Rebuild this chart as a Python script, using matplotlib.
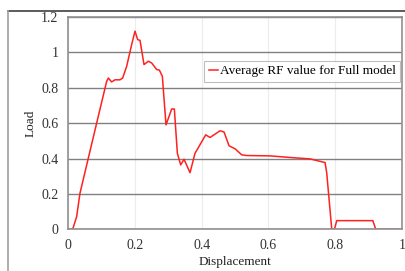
import matplotlib
matplotlib.use('Agg')
import matplotlib.pyplot as plt
from matplotlib.lines import Line2D

# data
displacement = [0.0, 0.013, 0.025, 0.035, 0.085, 0.115, 0.12, 0.13, 0.14, 0.155, 0.163,
                0.175, 0.19, 0.2, 0.208, 0.215, 0.227, 0.24, 0.25, 0.265, 0.273, 0.282,
                0.293, 0.31, 0.318, 0.327, 0.337, 0.347, 0.365, 0.38, 0.39, 0.412, 0.425,
                0.44, 0.455, 0.467, 0.482, 0.5, 0.52, 0.535, 0.605, 0.665, 0.695, 0.725,
                0.77, 0.775, 0.783, 0.79, 0.798, 0.805, 0.913, 0.922, 1.0]
load = [0.0, 0.0, 0.071, 0.204, 0.6, 0.836, 0.855, 0.833, 0.845, 0.845, 0.855,
        0.921, 1.044, 1.12, 1.072, 1.068, 0.931, 0.95, 0.94, 0.903, 0.9, 0.865,
        0.59, 0.68, 0.68, 0.43, 0.364, 0.396, 0.32, 0.43, 0.462, 0.534, 0.519,
        0.538, 0.557, 0.55, 0.472, 0.455, 0.421, 0.417, 0.415, 0.406, 0.402, 0.398,
        0.377, 0.317, 0.147, 0.0, 0.0, 0.049, 0.049, 0.0, 0.0]
xticks = [0, 0.2, 0.4, 0.6, 0.8, 1]
xticklabels = ['0', '0.2', '0.4', '0.6', '0.8', '1']
yticks = [0, 0.2, 0.4, 0.6, 0.8, 1, 1.2]
yticklabels = ['0', '0.2', '0.4', '0.6', '0.8', '1', '1.2']

plt.rcParams['font.family'] = ['Liberation Serif', 'DejaVu Serif']

fig = plt.figure(figsize=(4.05, 2.71), dpi=100)
ax = fig.add_axes([68.3/405, 1-229.3/271, (401.8-68.3)/405, (229.3-17)/271])

# outer frame, cut off at right and bottom
fig.add_artist(Line2D([8/405, 1], [1-10.5/271, 1-10.5/271], color='#404040', lw=1.2))
fig.add_artist(Line2D([8/405, 8/405], [0, 1-10.5/271], color='#a0a0a0', lw=1.2))

ax.plot(displacement, load, color='#ff2020', lw=1.1, label='Average RF value for Full model')

ax.set_xlim(0, 1)
ax.set_ylim(0, 1.2)
ax.set_xticks(xticks)
ax.set_xticklabels(xticklabels)
ax.set_yticks(yticks)
ax.set_yticklabels(yticklabels)
ax.tick_params(length=0, labelsize=10, colors='#333333', pad=7)

ax.grid(axis='y', color='#808080', lw=1.0)
ax.grid(axis='x', color='#ececec', lw=0.8)
ax.set_axisbelow(True)
for s in ax.spines.values():
    s.set_color('#909090')
    s.set_linewidth(1.2)

ax.set_xlabel('Displacement', fontsize=9.5, color='#222222', labelpad=3)
ax.set_ylabel('Load', fontsize=9.5, color='#222222', labelpad=3)

leg = ax.legend(loc='upper right', bbox_to_anchor=(0.995, 0.795), fontsize=9.5,
                frameon=True, fancybox=False, handlelength=0.7, handletextpad=0.1,
                borderpad=0.35, borderaxespad=0)
leg.get_frame().set_edgecolor('#b0b0b0')
leg.get_frame().set_linewidth(0.8)

fig.savefig('out.png', dpi=100)
